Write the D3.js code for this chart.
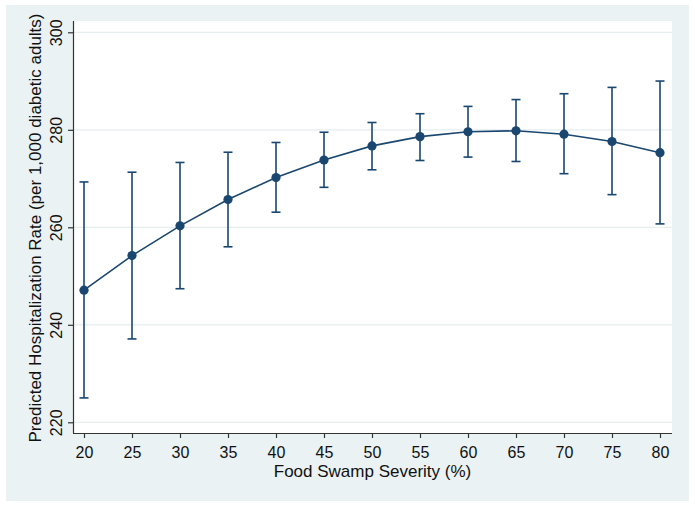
<!DOCTYPE html>
<html><head><meta charset="utf-8">
<script src="https://cdn.jsdelivr.net/npm/d3@7"></script>
<style>html,body{margin:0;padding:0;background:#fff;}svg{display:block;}</style>
</head><body>
<script>
const severity = [20,25,30,35,40,45,50,55,60,65,70,75,80];
const predicted = [247.1,254.2,260.3,265.7,270.2,273.8,276.7,278.6,279.6,279.8,279.1,277.6,275.3];
const lower = [225.0,237.1,247.4,256.0,263.1,268.2,271.8,273.7,274.4,273.5,271.0,266.7,260.7];
const upper = [269.3,271.3,273.3,275.4,277.4,279.5,281.5,283.3,284.8,286.2,287.4,288.7,290.0];
const yTicks = [220,240,260,280,300];
const xTicks = [20,25,30,35,40,45,50,55,60,65,70,75,80];
const xTitle = "Food Swamp Severity (%)";
const yTitle = "Predicted Hospitalization Rate (per 1,000 diabetic adults)";

const W=695,H=507;
const navy="#1a476f", bg="#eaf2f3", grid="#e6eef0";
const font="'Liberation Sans', Arial, Helvetica, sans-serif";
const svg=d3.select("body").append("svg").attr("width",W).attr("height",H);
svg.append("rect").attr("x",6).attr("y",5).attr("width",683).attr("height",496).attr("fill",bg);
const L=73,R=672,T=21,B=433;
svg.append("rect").attr("x",L).attr("y",T).attr("width",R-L).attr("height",B-T).attr("fill","#fff");

const x=d3.scaleLinear().domain([20,80]).range([84,660]);
const y=d3.scaleLinear().domain([220,300]).range([422.3,32.3]);

// grid
svg.append("g").selectAll("line").data(yTicks).join("line")
 .attr("x1",L).attr("x2",R).attr("y1",d=>y(d)).attr("y2",d=>y(d))
 .attr("stroke",grid).attr("stroke-width",1.2);

// axes
const xa=svg.append("g").attr("transform",`translate(0,${B})`)
 .call(d3.axisBottom(x).tickValues(xTicks).tickSize(5).tickPadding(5));
xa.select(".domain").attr("d",`M${L},0.5H${R}`);
const ya=svg.append("g").attr("transform",`translate(${L},0)`)
 .call(d3.axisLeft(y).tickValues(yTicks).tickSize(5).tickPadding(4));
ya.select(".domain").attr("d",`M0.5,${T}V${B}`);
[xa,ya].forEach(g=>{g.selectAll("path,line").attr("stroke","#333").attr("stroke-width",1.2);
 g.selectAll("text").attr("font-family",font).attr("font-size",16).attr("fill","#111");});
xa.selectAll(".tick text").attr("dy",0).attr("y",24.7);
ya.selectAll(".tick text").attr("text-anchor","middle").attr("dy",0).attr("x",0).attr("y",0)
 .attr("transform","translate(-11.5,0) rotate(-90)");

svg.append("text").attr("x",(L+R)/2).attr("y",476.5).attr("text-anchor","middle")
 .attr("font-family",font).attr("font-size",17).attr("fill","#111").text(xTitle);
svg.append("text").attr("transform",`translate(40.5,${(T+B)/2+1}) rotate(-90)`).attr("text-anchor","middle")
 .attr("font-family",font).attr("font-size",17).attr("fill","#111").text(yTitle);

const data=severity.map((s,i)=>({s,p:predicted[i],lo:lower[i],hi:upper[i]}));
const eb=svg.append("g").attr("stroke",navy).attr("stroke-width",1.6).attr("fill","none");
eb.selectAll("line.v").data(data).join("line").attr("class","v")
 .attr("x1",d=>x(d.s)).attr("x2",d=>x(d.s)).attr("y1",d=>y(d.lo)).attr("y2",d=>y(d.hi));
eb.selectAll("line.t").data(data).join("line").attr("class","t")
 .attr("x1",d=>x(d.s)-4.5).attr("x2",d=>x(d.s)+4.5).attr("y1",d=>y(d.hi)).attr("y2",d=>y(d.hi));
eb.selectAll("line.b").data(data).join("line").attr("class","b")
 .attr("x1",d=>x(d.s)-4.5).attr("x2",d=>x(d.s)+4.5).attr("y1",d=>y(d.lo)).attr("y2",d=>y(d.lo));

svg.append("path").datum(data).attr("fill","none").attr("stroke",navy).attr("stroke-width",1.6)
 .attr("d",d3.line().x(d=>x(d.s)).y(d=>y(d.p)));
svg.append("g").selectAll("circle").data(data).join("circle")
 .attr("cx",d=>x(d.s)).attr("cy",d=>y(d.p)).attr("r",4.6).attr("fill",navy);
</script>
</body></html>
